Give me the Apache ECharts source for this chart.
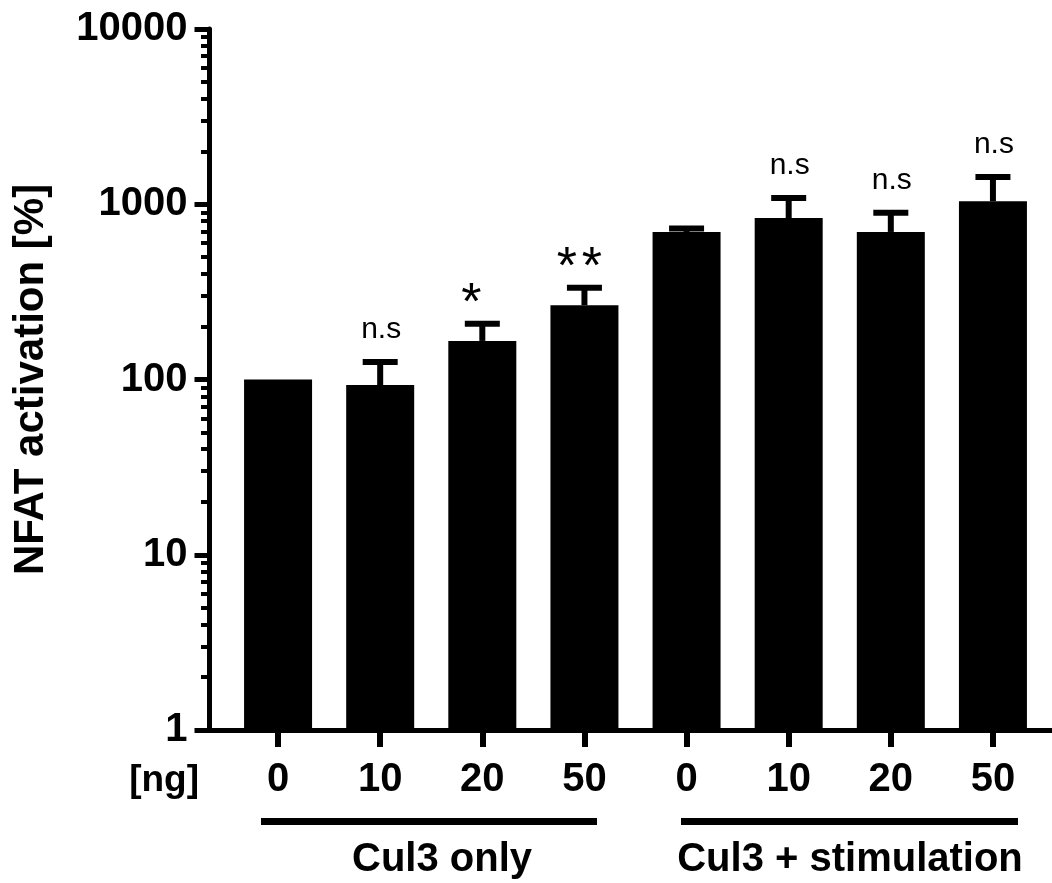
<!DOCTYPE html>
<html>
<head>
<meta charset="utf-8">
<script src="https://cdn.jsdelivr.net/npm/echarts@6/dist/echarts.min.js"></script>
<style>
html,body{margin:0;padding:0;background:#fff;}
#chart{width:1052px;height:883px;}
</style>
</head>
<body>
<div id="chart"></div>
<script>
// ---- data ----
const categories = ['0', '10', '20', '50', '0', '10', '20', '50'];
const means      = [100, 93, 166, 265, 695, 835, 695, 1040];
const errTops    = [100, 126, 208, 334, 727, 1087, 893, 1432];
const annotations = ['', 'n.s', '*', '**', '', 'n.s', 'n.s', 'n.s'];
const majorTicks = [1, 10, 100, 1000, 10000];
const minorTicks = [2,3,4,5,6,7,8,9, 20,30,40,50,60,70,80,90, 200,300,400,500,600,700,800,900, 2000,3000,4000,5000,6000,7000,8000,9000];
const groupLabels = ['Cul3 only', 'Cul3 + stimulation'];
const yTitle = 'NFAT activation [%]';
const unitLabel = '[ng]';

const FONT = '"Liberation Sans", Arial, Helvetica, sans-serif';
const chart = echarts.init(document.getElementById('chart'), null, {renderer: 'canvas'});

const errData = means.map((m, i) => [i, m, errTops[i]]);

const option = {
  backgroundColor: '#ffffff',
  animation: false,
  grid: [
    {left: 209.5, right: 0, top: 29, bottom: 153},
    {left: 227, right: 8, top: 29, bottom: 153}
  ],
  xAxis: [
    {type: 'value', gridIndex: 0, min: 0, max: 1,
     axisLine: {show: true, onZero: false, lineStyle: {color: '#000', width: 5}},
     axisTick: {show: false}, axisLabel: {show: false}, splitLine: {show: false}},
    {type: 'category', gridIndex: 1, data: categories, boundaryGap: true,
     axisLine: {show: false, onZero: false},
     axisTick: {show: true, alignWithLabel: true, length: 17, lineStyle: {color: '#000', width: 6}},
     axisLabel: {show: true, margin: 30, color: '#000', fontSize: 40, fontWeight: 'bold', fontFamily: FONT, interval: 0},
     splitLine: {show: false}}
  ],
  yAxis: [
    {type: 'log', gridIndex: 0, logBase: 10, min: 1, max: 10000, position: 'left', offset: 0,
     name: yTitle, nameLocation: 'middle', nameGap: 157, nameRotate: 90,
     nameTextStyle: {color: '#000', fontSize: 42, fontWeight: 'bold', fontFamily: FONT},
     axisLine: {show: true, onZero: false, lineStyle: {color: '#000', width: 5}},
     axisTick: {show: true, inside: false, length: 15, customValues: majorTicks, lineStyle: {color: '#000', width: 5}},
     axisLabel: {show: true, margin: 22, color: '#000', fontSize: 40, fontWeight: 'bold', fontFamily: FONT, customValues: majorTicks,
       formatter: v => String(Math.round(v))},
     splitLine: {show: false}},
    {type: 'log', gridIndex: 0, logBase: 10, min: 1, max: 10000, position: 'left', offset: 0,
     axisLine: {show: false, onZero: false},
     axisTick: {show: true, inside: false, length: 8.5, customValues: minorTicks, lineStyle: {color: '#000', width: 4}},
     axisLabel: {show: false}, splitLine: {show: false}},
    {type: 'log', gridIndex: 1, logBase: 10, min: 1, max: 10000, show: false,
     splitLine: {show: false}}
  ],
  series: [
    {type: 'bar', xAxisIndex: 1, yAxisIndex: 2, data: means, barWidth: 68,
     itemStyle: {color: '#000'}, silent: true, z: 2},
    {type: 'custom', xAxisIndex: 1, yAxisIndex: 2, data: errData, clip: false, z: 3,
     renderItem: function (params, api) {
       const i = api.value(0);
       const top = api.value(1);
       const err = api.value(2);
       const p0 = api.coord([i, top]);
       const p1 = api.coord([i, err]);
       const children = [];
       if (err > top) {
         children.push({type: 'line', shape: {x1: p0[0], y1: p0[1], x2: p1[0], y2: p1[1]},
           style: {stroke: '#000', lineWidth: 6}});
         children.push({type: 'line', shape: {x1: p1[0] - 17.5, y1: p1[1], x2: p1[0] + 17.5, y2: p1[1]},
           style: {stroke: '#000', lineWidth: 6}});
       }
       const a = annotations[params.dataIndex];
       if (a) {
         if (a.indexOf('*') >= 0) {
           const n = a.length;
           for (let k = 0; k < n; k++) {
             children.push({type: 'text',
               style: {text: '*', x: p1[0] - 11 + k * 25 - (n - 1) * 6.5, y: p1[1] - 19,
                 fill: '#000', align: 'center', verticalAlign: 'middle', font: '52px ' + FONT}});
           }
         } else {
           children.push({type: 'text',
             style: {text: a, x: p1[0] + 1, y: p1[1] - 17,
               fill: '#000', align: 'center', verticalAlign: 'bottom', font: '30px ' + FONT}});
         }
       }
       return {type: 'group', children: children};
     }}
  ],
  graphic: [
    {type: 'text', style: {text: unitLabel, x: 199, y: 781, align: 'right', verticalAlign: 'middle',
      fill: '#000', font: 'bold 37px ' + FONT}},
    {type: 'rect', shape: {x: 261, y: 818, width: 336, height: 7}, style: {fill: '#000'}},
    {type: 'rect', shape: {x: 681, y: 818, width: 337, height: 7}, style: {fill: '#000'}},
    {type: 'text', style: {text: groupLabels[0], x: 442, y: 860, align: 'center', verticalAlign: 'middle',
      fill: '#000', font: 'bold 40px ' + FONT}},
    {type: 'text', style: {text: groupLabels[1], x: 850, y: 860, align: 'center', verticalAlign: 'middle',
      fill: '#000', font: 'bold 40px ' + FONT}}
  ]
};
chart.setOption(option);
</script>
</body>
</html>
